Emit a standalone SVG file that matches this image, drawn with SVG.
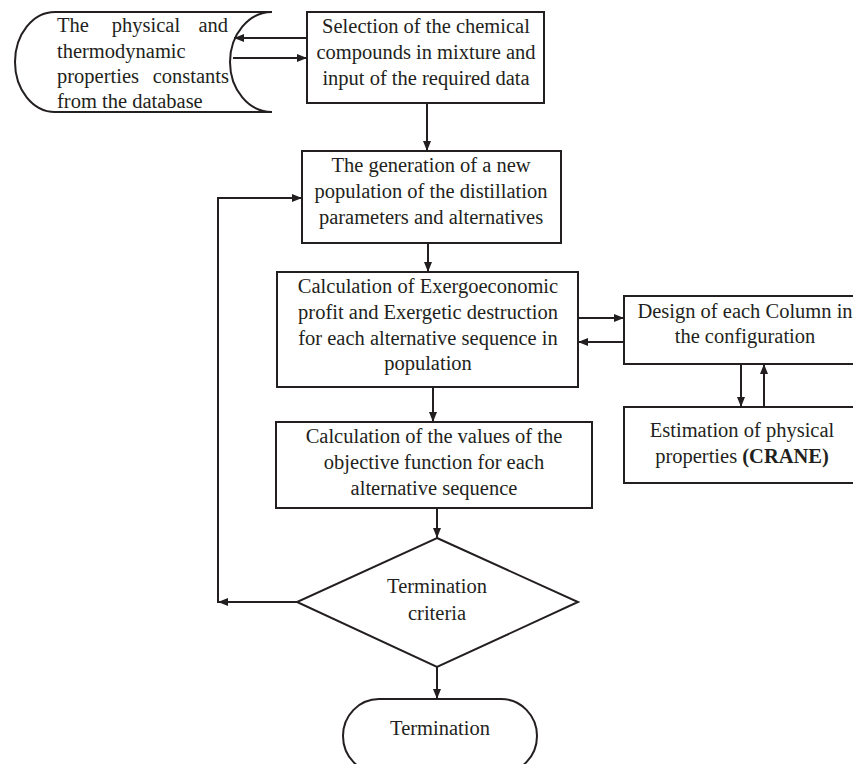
<svg xmlns="http://www.w3.org/2000/svg" width="853" height="764" viewBox="0 0 853 764">
<defs>
<marker id="ah" markerUnits="userSpaceOnUse" markerWidth="10" markerHeight="10" viewBox="0 0 10 10" refX="10" refY="5" orient="auto">
<path d="M0,1 L10,5 L0,9 Z" fill="#231f20"/>
</marker>
<style>
.box{fill:#fff;stroke:#231f20;stroke-width:2}
.ln{fill:none;stroke:#231f20;stroke-width:2;marker-end:url(#ah)}
text{font-family:"Liberation Serif","Times New Roman",serif;font-size:20.5px;fill:#231f20}
.c{text-anchor:middle}
.e{text-anchor:end}
</style>
</defs>
<rect width="853" height="764" fill="#fff"/>
<g id="database">
<path class="box" d="M55,12 H272 A42 50 0 0 0 272,112 H55 A40 50 0 0 1 55,12 Z"/>
<text x="57" y="32">The</text><text x="146" y="32" class="c">physical</text><text x="228" y="32" class="e">and</text>
<text x="57" y="58">thermodynamic</text>
<text x="57" y="83">properties</text><text x="229" y="83" class="e">constants</text>
<text x="57" y="108">from the database</text>
</g>
<g id="selection">
<rect class="box" x="307" y="12" width="237" height="91"/>
<text class="c" x="426" y="33">Selection of the chemical</text>
<text class="c" x="426" y="59">compounds in mixture and</text>
<text class="c" x="426" y="85">input of the required data</text>
</g>
<g id="generation">
<rect class="box" x="302" y="151" width="259" height="92"/>
<text class="c" x="431" y="172">The generation of a new</text>
<text class="c" x="431" y="198">population of the distillation</text>
<text class="c" x="431" y="224">parameters and alternatives</text>
</g>
<g id="calc-exergo">
<rect class="box" x="277" y="272" width="301" height="115"/>
<text class="c" x="428" y="293">Calculation of Exergoeconomic</text>
<text class="c" x="428" y="319">profit and Exergetic destruction</text>
<text class="c" x="428" y="345">for each alternative sequence in</text>
<text class="c" x="428" y="370">population</text>
</g>
<g id="design">
<rect class="box" x="624" y="296" width="240" height="68"/>
<text class="c" x="745" y="318">Design of each Column in</text>
<text class="c" x="745" y="343">the configuration</text>
</g>
<g id="estimation">
<rect class="box" x="624" y="407" width="240" height="76"/>
<text class="c" x="742" y="437">Estimation of physical</text>
<text class="c" x="742" y="463">properties <tspan font-weight="bold">(CRANE)</tspan></text>
</g>
<g id="calc-objective">
<rect class="box" x="276" y="422" width="316" height="86"/>
<text class="c" x="434" y="443">Calculation of the values of the</text>
<text class="c" x="434" y="469">objective function for each</text>
<text class="c" x="434" y="495">alternative sequence</text>
</g>
<g id="criteria">
<path class="box" d="M437,538 L578,602 L437,667 L297,602 Z"/>
<text class="c" x="437" y="593">Termination</text>
<text class="c" x="437" y="620">criteria</text>
</g>
<g id="termination">
<rect class="box" x="343" y="699" width="194" height="74" rx="36" ry="37"/>
<text class="c" x="440" y="735">Termination</text>
</g>
<g id="connectors">
<path class="ln" d="M307,38 H234"/>
<path class="ln" d="M233,58 H307"/>
<path class="ln" d="M427,103 V151"/>
<path class="ln" d="M428,243 V272"/>
<path class="ln" d="M578,318 H624"/>
<path class="ln" d="M624,342 H578"/>
<path class="ln" d="M741,364 V407"/>
<path class="ln" d="M764,407 V364"/>
<path class="ln" d="M433,387 V422"/>
<path class="ln" d="M437,508 V538"/>
<path class="ln" d="M437,667 V699"/>
<path class="ln" d="M297,602 H218"/>
<path class="ln" d="M218,603 V198 H302"/>
</g>
</svg>
